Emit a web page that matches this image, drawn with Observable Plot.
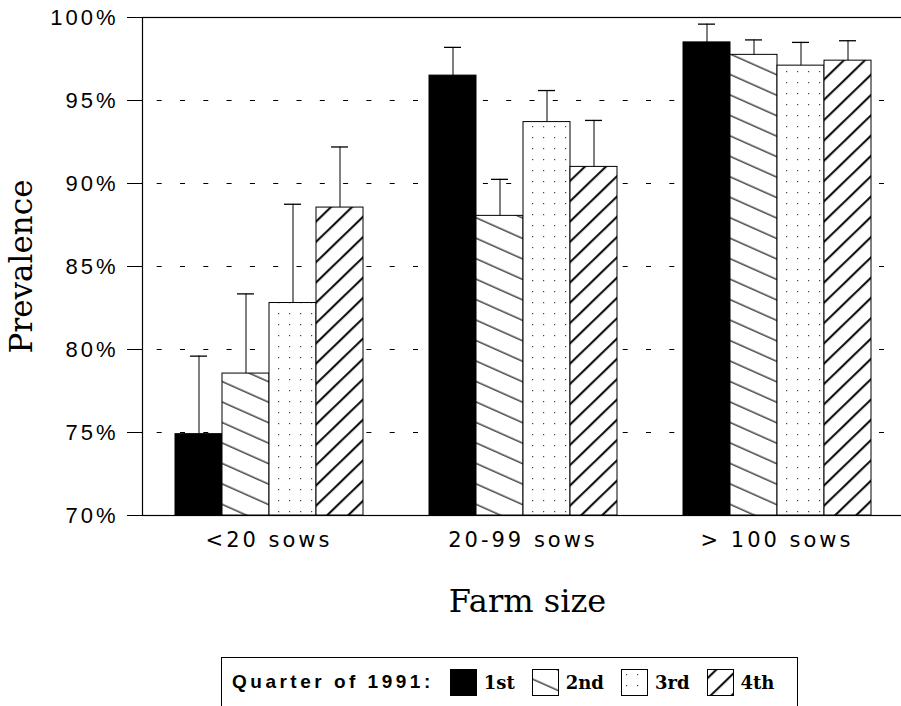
<!DOCTYPE html>
<html>
<head>
<meta charset="utf-8">
<script src="https://cdn.jsdelivr.net/npm/d3@7"></script>
<script src="https://cdn.jsdelivr.net/npm/@observablehq/plot@0.6"></script>
<style>
  body { margin: 0; background: #fff; }
  #chart { position: relative; width: 901px; height: 706px; }
  #defs { position: absolute; width: 0; height: 0; }
  #chart svg.layer { position: absolute; left: 0; top: 0; }
  #chart svg.layer [aria-label="y-axis tick label"] text { letter-spacing: 3px; }
  #chart svg.layer [aria-label="fx-axis tick label"] text { letter-spacing: 3px; }
  #legend {
    position: absolute; left: 221px; top: 657px; width: 577px; height: 50px;
    border: 1px solid #000; box-sizing: border-box;
    display: flex; align-items: center; padding-left: 10px;
    font-family: "Liberation Sans", Arial, sans-serif; color: #000;
  }
  #legend .title { font-size: 19px; font-weight: bold; letter-spacing: 3.5px; margin-right: 16px; }
  #legend .sw { width: 27px; height: 27px; display: block; margin-right: 7px; }
  #legend .lab { font-family: "DejaVu Serif", serif; font-weight: bold; font-size: 18px; margin-right: 17px; }
</style>
</head>
<body>
<div id="chart">
  <svg id="defs" width="0" height="0">
    <defs>
      <pattern id="hatch2" patternUnits="userSpaceOnUse" width="20" height="18.7" patternTransform="rotate(24)">
        <rect width="20" height="18.7" fill="#fff"/>
        <line x1="0" y1="9" x2="20" y2="9" stroke="#000" stroke-width="1.1"/>
      </pattern>
      <pattern id="dots3" patternUnits="userSpaceOnUse" width="11" height="11">
        <rect width="11" height="11" fill="#fff"/>
        <rect x="5" y="5" width="1.2" height="1.2" fill="#444"/>
      </pattern>
      <pattern id="hatch4" patternUnits="userSpaceOnUse" width="20" height="14.6" patternTransform="rotate(-44)">
        <rect width="20" height="14.6" fill="#fff"/>
        <line x1="0" y1="7" x2="20" y2="7" stroke="#000" stroke-width="2"/>
      </pattern>
    </defs>
  </svg>
</div>
<script>
// ---- data ----
const farmSizes = ["<20 sows", "20-99 sows", "> 100 sows"];
const quarters = ["1st", "2nd", "3rd", "4th"];
// prevalence (%) per quarter, in farmSizes order
const prev1st = [74.9, 96.5, 98.5];
const prev2nd = [78.55, 88.05, 97.75];
const prev3rd = [82.8, 93.7, 97.1];
const prev4th = [88.55, 91.0, 97.4];
// upper end of the error bars (%)
const upper1st = [79.6, 98.2, 99.6];
const upper2nd = [83.35, 90.25, 98.65];
const upper3rd = [88.75, 95.6, 98.5];
const upper4th = [92.2, 93.8, 98.6];
const yDomain = [70, 100];
const yTicks = [70, 75, 80, 85, 90, 95, 100];
const gridTicks = [75, 80, 85, 90, 95];
const quarterFills = ["#000", "url(#hatch2)", "url(#dots3)", "url(#hatch4)"];
const legendTitle = "Quarter of 1991:";
const xTitle = "Farm size";
const yTitle = "Prevalence";

const values = [prev1st, prev2nd, prev3rd, prev4th];
const uppers = [upper1st, upper2nd, upper3rd, upper4th];
const rows = farmSizes.flatMap((farm, i) =>
  quarters.map((quarter, q) => ({farm, quarter, value: values[q][i], upper: uppers[q][i]}))
);

// shared layout so both layers use identical y scales
const layout = {
  className: "layer",
  width: 901,
  height: 645,
  marginLeft: 142,
  marginRight: -3,
  marginTop: 17,
  marginBottom: 130,
  style: {background: "transparent", color: "#000", overflow: "visible"}
};

// background layer: grid, frame, y axis, titles
const back = Plot.plot({
  ...layout,
  y: {domain: yDomain},
  marks: [
    Plot.ruleY(gridTicks, {y: d => d, stroke: "#000", strokeWidth: 1, strokeDasharray: "5,18.3", strokeDashoffset: 8.6}),
    Plot.frame({stroke: "#000", strokeWidth: 1.2}),
    Plot.axisY(yTicks, {tickSize: 15, tickPadding: 9, tickFormat: d => d + "%", fontSize: 22, fontFamily: "Liberation Sans, Arial, sans-serif", label: null}),
    Plot.text([xTitle], {text: d => d, frameAnchor: "bottom", dy: 96, dx: 4, fontSize: 32, fontFamily: "DejaVu Serif, serif"}),
    Plot.text([yTitle], {text: d => d, frameAnchor: "left", textAnchor: "middle", dx: -120, rotate: -90, fontSize: 31, fontFamily: "DejaVu Serif, serif"})
  ]
});

// foreground layer: grouped bars with error bars
const front = Plot.plot({
  ...layout,
  fx: {domain: farmSizes, paddingInner: 0.248, paddingOuter: 0.124},
  x: {domain: quarters, padding: 0, axis: null},
  y: {domain: yDomain, axis: null},
  color: {domain: quarters, range: quarterFills},
  marks: [
    Plot.barY(rows, {fx: "farm", x: "quarter", y1: yDomain[0], y2: "value", fill: "quarter", stroke: "#000", strokeWidth: 1}),
    Plot.ruleX(rows, {fx: "farm", x: "quarter", y1: "value", y2: "upper", stroke: "#000", strokeWidth: 1}),
    Plot.tickY(rows, {fx: "farm", x: "quarter", y: "upper", stroke: "#000", strokeWidth: 1.3, insetLeft: 15, insetRight: 15}),
    Plot.axisFx({anchor: "bottom", tickSize: 0, tickPadding: 17, fontSize: 21, fontFamily: "DejaVu Sans, sans-serif", label: null})
  ]
});

const chart = document.getElementById("chart");
chart.appendChild(back);
chart.appendChild(front);

// legend below the plot
const legend = d3.select("#chart").append("div").attr("id", "legend");
legend.append("span").attr("class", "title").text(legendTitle);
quarters.forEach((q, i) => {
  const sw = legend.append("svg").attr("class", "sw").attr("width", 27).attr("height", 27);
  sw.append("rect").attr("x", 0.5).attr("y", 0.5).attr("width", 26).attr("height", 26)
    .attr("fill", quarterFills[i]).attr("stroke", "#000").attr("stroke-width", 1);
  legend.append("span").attr("class", "lab").text(q);
});
</script>
</body>
</html>
